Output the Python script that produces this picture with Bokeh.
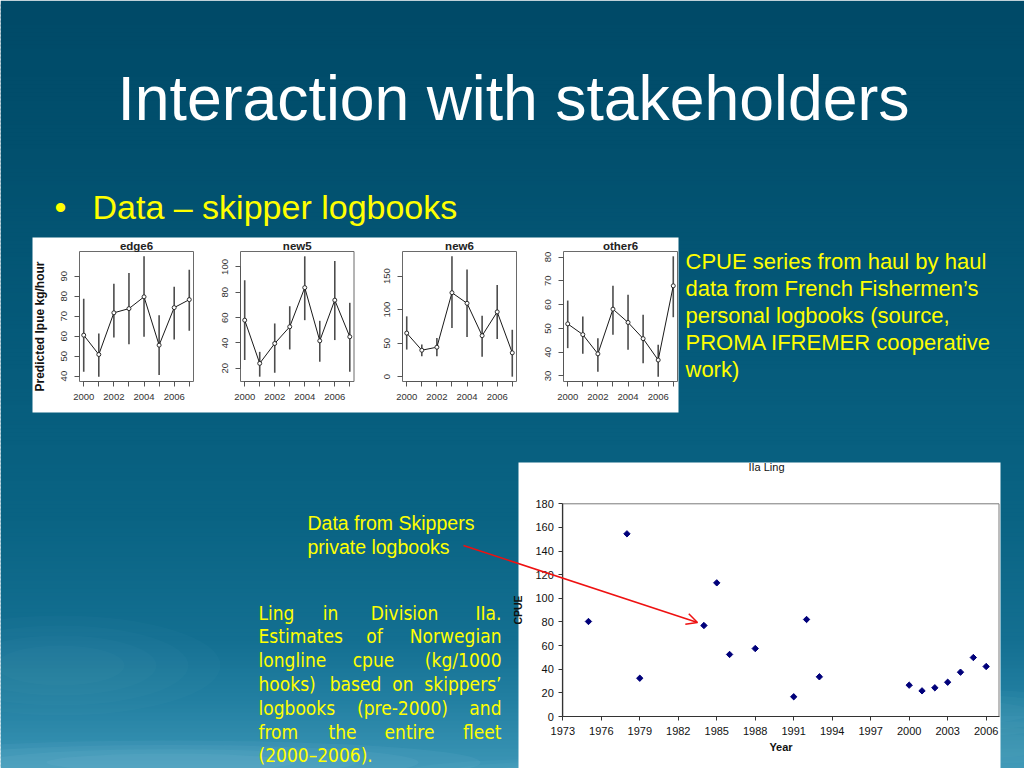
import numpy as np
from bokeh.plotting import figure
from bokeh.models import Range1d, LinearAxis, FixedTicker, Arrow, OpenHead
from bokeh.core.properties import value
from bokeh.embed import file_html
from bokeh.resources import INLINE

# ---------------- data ----------------
years = [2000, 2001, 2002, 2003, 2004, 2005, 2006, 2007]
year_labels = ["2000", "", "2002", "", "2004", "", "2006", ""]

edge6_est = [60.5, 50.8, 71.7, 73.8, 79.7, 55.5, 74.3, 78.3]
edge6_lo = [42.2, 39.7, 59.3, 56.0, 59.7, 40.5, 58.3, 62.7]
edge6_hi = [78.8, 61.3, 86.3, 91.7, 100.0, 70.5, 84.7, 93.3]
edge6_ticks = [40, 50, 60, 70, 80, 90]

new5_est = [58.0, 23.9, 39.6, 52.8, 83.7, 41.7, 73.8, 44.9]
new5_lo = [26.5, 13.4, 16.5, 34.9, 58.0, 25.2, 42.3, 17.3]
new5_hi = [89.5, 33.0, 55.4, 69.0, 108.4, 57.5, 104.7, 71.7]
new5_ticks = [20, 40, 60, 80, 100]

new6_est = [65.0, 39.5, 44.0, 125.3, 109.5, 61.2, 96.7, 35.6]
new6_lo = [40.5, 30.6, 30.6, 72.5, 59.3, 29.6, 56.3, 0.0]
new6_hi = [90.0, 48.0, 57.8, 179.6, 160.0, 90.8, 136.7, 70.0]
new6_ticks = [0, 50, 100, 150]

other6_est = [51.9, 47.4, 39.3, 58.1, 52.5, 45.7, 36.7, 67.9]
other6_lo = [41.7, 39.3, 31.8, 47.3, 41.0, 35.3, 29.7, 54.7]
other6_hi = [61.7, 55.0, 45.9, 67.9, 64.1, 55.7, 43.1, 80.3]
other6_ticks = [30, 40, 50, 60, 70, 80]

panel_names = ["edge6", "new5", "new6", "other6"]

ling_years = [1975, 1978, 1979, 1984, 1985, 1986, 1988, 1991, 1992, 1993,
              2000, 2001, 2002, 2003, 2004, 2005, 2006]
ling_cpue = [80.4, 154.6, 32.4, 77.0, 113.1, 52.5, 57.5, 16.7, 82.1, 33.6,
             26.5, 21.7, 24.3, 29.0, 37.5, 49.9, 42.3]
ling_xticks = [1973, 1976, 1979, 1982, 1985, 1988, 1991, 1994, 1997, 2000, 2003, 2006]
ling_yticks = [0, 20, 40, 60, 80, 100, 120, 140, 160, 180]

title_text = "Interaction with stakeholders"
bullet_text = "Data \u2013 skipper logbooks"
right_lines = ["CPUE series from haul by haul",
               "data from French Fishermen\u2019s",
               "personal logbooks (source,",
               "PROMA IFREMER cooperative",
               "work)"]
note_lines = ["Data from Skippers", "private logbooks"]
just_lines = [["Ling", "in", "Division", "IIa."],
              ["Estimates", "of", "Norwegian"],
              ["longline", "cpue", "(kg/1000"],
              ["hooks)", "based", "on", "skippers\u2019"],
              ["logbooks", "(pre-2000)", "and"],
              ["from", "the", "entire", "fleet"],
              ["(2000\u20132006)."]]

# ---------------- layout (screen pixel frame) ----------------
W, H = 1024, 768
LEFT, TOP = 0, 0
RIGHT, BOTTOM = LEFT + W, TOP + H

YELLOW = "#ffff00"
ARIAL = "Liberation Sans"


def x_range_for(a, b, d0, d1):
    k = (d1 - d0) / (b - a)
    return Range1d(d0 - (a - LEFT) * k, d1 + (RIGHT - b) * k)


def y_range_for(top, bot, v0, v1):
    k = (v1 - v0) / (bot - top)
    return Range1d(v0 - (BOTTOM - bot) * k, v1 + (top - TOP) * k)


p = figure(width=W, height=H, output_backend="svg", toolbar_location=None,
           x_range=Range1d(LEFT, RIGHT), y_range=Range1d(BOTTOM, TOP),
           x_axis_type=None, y_axis_type=None, min_border=0,
           background_fill_color=None, border_fill_color="#0a5a7a",
           outline_line_color=None)

# ---- slide background (vertical gradient + soft light waves) ----
sy = [0, 150, 330, 520, 640, 700, 768]
sr = [0, 2, 5, 10, 20, 35, 60]
sg = [74, 80, 90, 100, 112, 128, 150]
sb = [104, 110, 122, 132, 146, 162, 182]
edges = np.arange(0, 772, 4)
mids = (edges[:-1] + edges[1:]) / 2
cols = ["#%02x%02x%02x" % (int(np.interp(m, sy, sr)), int(np.interp(m, sy, sg)),
                          int(np.interp(m, sy, sb))) for m in mids]
p.quad(left=LEFT, right=RIGHT, top=edges[:-1], bottom=edges[1:] + 2, fill_color=cols,
       line_color=None, level="image")
# soft light patches: each blob is a stack of shrinking, very faint ellipses
blob_x = [170, 60, 900, 620, 1000]
blob_y = [762, 665, 712, 770, 745]
blob_w = [620, 320, 440, 420, 200]
blob_h = [44, 100, 50, 26, 60]
blob_a = [0.05, 0.018, 0.03, 0.03, 0.025]
for f in (1.0, 0.8, 0.6, 0.4):
    p.ellipse(x=blob_x, y=blob_y, width=[w * f for w in blob_w], height=[h * f for h in blob_h],
              fill_color="#c8f2ff", fill_alpha=blob_a, line_color=None, level="image")


def txt(x, y, s, size, color, font=ARIAL, align="left", style="normal"):
    p.text(x=[x], y=[y], text=[s], text_font=value(font), text_font_size=f"{size}px",
           text_color=color, text_align=align, text_baseline="middle",
           text_font_style=style)


# ---- slide texts (y = visual middle of each line) ----
txt(117, 97, title_text, 62.5, "white")
txt(54, 206, "\u2022", 34, YELLOW)
txt(92, 206, bullet_text, 34, YELLOW)
for i, line in enumerate(right_lines):
    txt(685, 260.5 + 27 * i, line, 22, YELLOW)
for i, line in enumerate(note_lines):
    txt(307, 522 + 24 * i, line, 19.5, YELLOW)

JL, JR = 258, 501
JFONT = "DejaVu Sans Condensed"
mid_centers = [[330, 404], [374], [373], [355, 402.5], [402], [342, 409], []]
for i, words in enumerate(just_lines):
    yy = 612 + 23.8 * i
    txt(JL, yy, words[0], 19, YELLOW, font=JFONT)
    if len(words) == 1:
        continue
    txt(JR, yy, words[-1], 19, YELLOW, font=JFONT, align="right")
    for w, cx in zip(words[1:-1], mid_centers[i]):
        txt(cx, yy, w, 19, YELLOW, font=JFONT, align="center")

# ---- R-style panel of four small plots ----
p.quad(left=32, right=678, top=237, bottom=412, fill_color="white", line_color=None)

series = {"edge6": (edge6_est, edge6_lo, edge6_hi, edge6_ticks),
          "new5": (new5_est, new5_lo, new5_hi, new5_ticks),
          "new6": (new6_est, new6_lo, new6_hi, new6_ticks),
          "other6": (other6_est, other6_lo, other6_hi, other6_ticks)}
box_lr = {"edge6": (79, 193), "new5": (240, 353.5), "new6": (402, 516), "other6": (563, 677)}
BOX_T, BOX_B = 251, 381
GRAY_TXT = "#333333"

for name in panel_names:
    est, lo, hi, yt = series[name]
    a, b = box_lr[name]
    xspan = max(years) - min(years)
    xlim = (min(years) - 0.04 * xspan, max(years) + 0.04 * xspan)
    ymin, ymax = min(lo), max(hi)
    yspan = ymax - ymin
    ylim = (ymin - 0.04 * yspan, ymax + 0.04 * yspan)
    xn, yn = name + "_x", name + "_y"
    p.extra_x_ranges[xn] = x_range_for(a, b, *xlim)
    p.extra_y_ranges[yn] = y_range_for(BOX_T, BOX_B, *ylim)

    p.quad(left=[xlim[0]], right=[xlim[1]], bottom=[ylim[0]], top=[ylim[1]],
           fill_color=None, line_color="#6a6a6a", line_width=1,
           x_range_name=xn, y_range_name=yn)
    p.segment(x0=years, y0=lo, x1=years, y1=hi, line_color="#4d4d4d", line_width=1.6,
              x_range_name=xn, y_range_name=yn)
    p.line(years, est, line_color="#1a1a1a", line_width=1, x_range_name=xn, y_range_name=yn)
    p.scatter(years, est, marker="circle", size=4, fill_color="white", line_color="#1a1a1a",
              line_width=0.9, x_range_name=xn, y_range_name=yn)

    xax = LinearAxis(x_range_name=xn, y_range_name=yn, fixed_location=ylim[0],
                     ticker=FixedTicker(ticks=years, minor_ticks=[]),
                     major_label_overrides={y: l for y, l in zip(years, year_labels)},
                     bounds=(min(years), max(years)))
    yax = LinearAxis(x_range_name=xn, y_range_name=yn, fixed_location=xlim[0],
                     ticker=FixedTicker(ticks=yt, minor_ticks=[]),
                     bounds=(min(yt), max(yt)), major_label_orientation="parallel")
    for ax in (xax, yax):
        ax.axis_line_color = "#555555"
        ax.major_tick_line_color = "#555555"
        ax.major_tick_out = 5
        ax.major_tick_in = 0
        ax.minor_tick_out = 0
        ax.major_label_text_font = ARIAL
        ax.major_label_text_font_size = "9.5px"
        ax.major_label_text_color = GRAY_TXT
        ax.major_label_standoff = 7
    if name == "edge6":
        yax.axis_label = "Predicted lpue kg/hour"
        yax.axis_label_text_font = ARIAL
        yax.axis_label_text_font_style = "bold"
        yax.axis_label_text_font_size = "12px"
        yax.axis_label_text_color = "#111111"
        yax.axis_label_standoff = 12
    p.add_layout(xax, "below")
    p.add_layout(yax, "left")
    txt((a + b) / 2, 245.5, name, 11.5, "#222222", align="center", style="bold")

# ---- Excel-style scatter: IIa Ling ----
p.quad(left=518, right=1000, top=462, bottom=BOTTOM, fill_color="white", line_color=None)
BX = (562.3, 998.5)
BY = (503.3, 716)
bxlim = (1973, 2007)
bylim = (0, 180)
p.extra_x_ranges["ling_x"] = x_range_for(BX[0], BX[1], *bxlim)
p.extra_y_ranges["ling_y"] = y_range_for(BY[0], BY[1], *bylim)
p.quad(left=[bxlim[0]], right=[bxlim[1]], bottom=[bylim[0]], top=[bylim[1]],
       fill_color=None, line_color="#7a7a7a", line_width=1,
       x_range_name="ling_x", y_range_name="ling_y")
p.scatter(ling_years, ling_cpue, marker="square", angle=np.pi / 4, size=4.5,
          fill_color="#00007a", line_color="#00007a", x_range_name="ling_x",
          y_range_name="ling_y")

lx = LinearAxis(x_range_name="ling_x", y_range_name="ling_y", fixed_location=bylim[0],
                ticker=FixedTicker(ticks=ling_xticks, minor_ticks=[]), bounds=bxlim,
                axis_label="Year")
ly = LinearAxis(x_range_name="ling_x", y_range_name="ling_y", fixed_location=bxlim[0],
                ticker=FixedTicker(ticks=ling_yticks, minor_ticks=[]), bounds=bylim,
                axis_label="CPUE")
for ax in (lx, ly):
    ax.axis_line_color = "#333333"
    ax.axis_line_width = 1.2
    ax.major_tick_line_color = "#333333"
    ax.major_tick_out = 4
    ax.major_tick_in = 0
    ax.minor_tick_out = 0
    ax.major_label_text_font = ARIAL
    ax.major_label_text_font_size = "11px"
    ax.major_label_text_color = "#111111"
    ax.axis_label_text_font = ARIAL
    ax.axis_label_text_font_style = "bold"
    ax.axis_label_text_color = "#111111"
lx.major_label_standoff = 6
lx.axis_label_text_font_size = "11px"
lx.axis_label_standoff = 3
ly.major_label_standoff = 5
ly.axis_label_text_font_size = "10.5px"
ly.axis_label_standoff = 8
p.add_layout(lx, "below")
p.add_layout(ly, "left")
txt(766, 466.5, "IIa Ling", 11, "#111111", align="center")

# ---- red arrow from the note to a data point ----
p.add_layout(Arrow(end=OpenHead(size=11, line_color="#ee1111", line_width=1.5),
                   x_start=463, y_start=545, x_end=697, y_end=622,
                   line_color="#ee1111", line_width=1.5))

open("out.html", "w").write(file_html(p, INLINE))
